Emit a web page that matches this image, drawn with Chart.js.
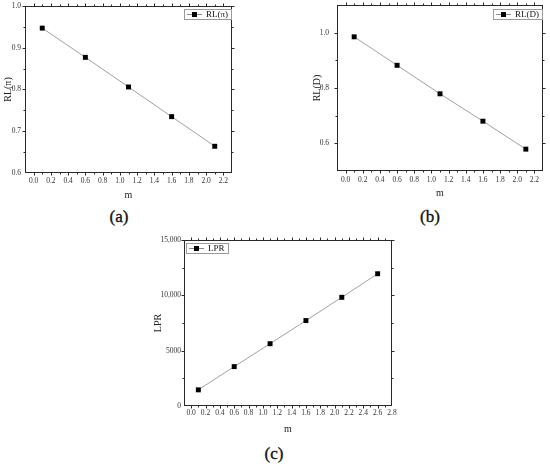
<!DOCTYPE html>
<html><head><meta charset="utf-8">
<script src="https://cdn.jsdelivr.net/npm/chart.js@4"></script>
<style>
html,body{margin:0;padding:0;background:#fff;width:550px;height:464px;overflow:hidden;}
.box{position:absolute;}
.cap{position:absolute;font-family:"Liberation Serif",serif;font-size:17px;color:#111;transform:translate(-50%,-50%);white-space:nowrap;-webkit-text-stroke:0.35px #111;}
</style></head><body>
<div class="box" style="left:0;top:0;width:240px;height:202px"><canvas id="ca" width="240" height="202"></canvas></div>
<div class="box" style="left:300px;top:0;width:250px;height:200px"><canvas id="cb" width="250" height="200"></canvas></div>
<div class="box" style="left:140px;top:230px;width:270px;height:205px"><canvas id="cc" width="270" height="205"></canvas></div>
<div class="cap" style="left:119px;top:217px">(a)</div>
<div class="cap" style="left:430px;top:217px">(b)</div>
<div class="cap" style="left:274px;top:454px">(c)</div>
<script>
// ---- data ----
const mA = [0.1, 0.6, 1.1, 1.6, 2.1];
const rlPi = [0.947, 0.877, 0.806, 0.735, 0.664];
const mB = [0.1, 0.6, 1.1, 1.6, 2.1];
const rlD = [0.985, 0.882, 0.779, 0.680, 0.579];
const mC = [0.1, 0.6, 1.1, 1.6, 2.1, 2.6];
const lpr = [1460, 3560, 5630, 7720, 9820, 11950];

const xTicksAB = [0.0, 0.2, 0.4, 0.6, 0.8, 1.0, 1.2, 1.4, 1.6, 1.8, 2.0, 2.2];
const xLabelsAB = ['0.0','0.2','0.4','0.6','0.8','1.0','1.2','1.4','1.6','1.8','2.0','2.2'];
const xTicksC = [0.0, 0.2, 0.4, 0.6, 0.8, 1.0, 1.2, 1.4, 1.6, 1.8, 2.0, 2.2, 2.4, 2.6, 2.8];
const xLabelsC = ['0.0','0.2','0.4','0.6','0.8','1.0','1.2','1.4','1.6','1.8','2.0','2.2','2.4','2.6','2.8'];
const yTicksA = [0.6, 0.7, 0.8, 0.9, 1.0];
const yLabelsA = ['0.6','0.7','0.8','0.9','1.0'];
const yTicksB = [0.6, 0.8, 1.0];
const yLabelsB = ['0.6','0.8','1.0'];
const yTicksC = [0, 5000, 10000, 15000];
const yLabelsC = ['0','5000','10,000','15,000'];

const FONT = '"Liberation Serif", "Times New Roman", serif';

const framePlugin = {
  id: 'frame',
  beforeDatasetsDraw(chart) {
    const {ctx, chartArea: a, scales: {x, y}} = chart;
    const L = Math.round(a.left) + 0.5, R = Math.round(a.right) - 0.5;
    const T = Math.round(a.top) + 0.5, B = Math.round(a.bottom) - 0.5;
    ctx.save();
    ctx.strokeStyle = '#2a2a2a';
    ctx.lineWidth = 1;
    ctx.strokeRect(L, T, R - L, B - T);
    const mids = arr => arr.slice(1).map((v, i) => (v + arr[i]) / 2);
    const xs = x.ticks.map(t => t.value), ys = y.ticks.map(t => t.value);
    ctx.beginPath();
    const xt = (vals, len) => vals.forEach(v => {
      const p = Math.round(x.getPixelForValue(v)) + 0.5;
      if (p < L - 0.1 || p > R + 0.1) return;
      ctx.moveTo(p, B); ctx.lineTo(p, B + len);
      ctx.moveTo(p, T); ctx.lineTo(p, T - len);
    });
    const yt = (vals, len) => vals.forEach(v => {
      const p = Math.round(y.getPixelForValue(v)) + 0.5;
      if (p < T - 0.1 || p > B + 0.1) return;
      ctx.moveTo(L, p); ctx.lineTo(L - len, p);
      ctx.moveTo(R, p); ctx.lineTo(R + len, p);
    });
    xt(xs, 3); xt(mids(xs), 2);
    yt(ys, 3); yt(mids(ys), 2);
    ctx.stroke();
    ctx.restore();
  },
  afterDraw(chart, args, opts) {
    const {ctx, chartArea: a} = chart;
    const ds = chart.data.datasets[0];
    ctx.save();
    ctx.font = '9px ' + FONT;
    const tw = ctx.measureText(ds.label).width;
    const w = Math.round(22 + tw + 3), h = 10;
    const bx = Math.round(opts.align === 'right' ? a.right - 1 - w : a.left + 2);
    const by = Math.round(a.top + opts.dy);
    ctx.fillStyle = '#fff';
    ctx.fillRect(bx, by, w, h);
    ctx.strokeStyle = '#9a9a9a';
    ctx.lineWidth = 1;
    ctx.strokeRect(bx + 0.5, by + 0.5, w, h);
    const cy = by + h / 2 + 0.5;
    ctx.strokeStyle = '#8a8a8a';
    ctx.beginPath(); ctx.moveTo(bx + 3, cy); ctx.lineTo(bx + 18, cy); ctx.stroke();
    ctx.fillStyle = '#000';
    ctx.fillRect(bx + 8, cy - 2.5, 5, 5);
    ctx.fillStyle = '#111';
    ctx.textBaseline = 'middle';
    ctx.textAlign = 'left';
    ctx.fillText(ds.label, bx + 22, cy + 0.5);
    ctx.restore();
  }
};

function makeChart(id, c) {
  return new Chart(document.getElementById(id), {
    type: 'line',
    data: {
      datasets: [{
        label: c.label,
        data: c.x.map((v, i) => ({x: v, y: c.y[i]})),
        borderColor: '#a0a0a0',
        borderWidth: 1,
        pointStyle: 'rect',
        pointRadius: 3.5,
        pointBackgroundColor: '#000',
        pointBorderColor: '#000',
        pointBorderWidth: 0,
        tension: 0,
        clip: false
      }]
    },
    options: {
      responsive: false,
      animation: false,
      devicePixelRatio: 1,
      layout: {padding: {top: c.pt, right: c.pr, left: 0, bottom: 0}},
      plugins: {
        legend: {display: false},
        tooltip: {enabled: false},
        frame: {align: c.legendAlign, dy: c.legendDy}
      },
      scales: {
        x: {
          type: 'linear', min: c.xmin, max: c.xmax,
          afterBuildTicks: s => { s.ticks = c.xTicks.map(v => ({value: v})); },
          afterFit: s => { s.height = c.xh; s.paddingLeft = 0; s.paddingRight = 0; s.paddingTop = 0; s.paddingBottom = 0; },
          grid: {display: false, drawTicks: false},
          border: {display: false},
          ticks: {padding: c.xtp, autoSkip: false, maxRotation: 0, color: '#333',
                  font: {family: FONT, size: 7.5}, callback: (v, i) => c.xLabels[i]},
          title: {display: true, text: 'm', color: '#222', font: {family: FONT, size: 10},
                  padding: {top: 0, bottom: c.xtitlePad}}
        },
        y: {
          type: 'linear', min: c.ymin, max: c.ymax,
          afterBuildTicks: s => { s.ticks = c.yTicks.map(v => ({value: v})); },
          afterFit: s => { s.width = c.yw; s.paddingLeft = 0; s.paddingRight = 0; s.paddingTop = 0; s.paddingBottom = 0; },
          grid: {display: false, drawTicks: false},
          border: {display: false},
          ticks: {padding: c.ytp, autoSkip: false, color: '#333',
                  font: {family: FONT, size: 7.5}, callback: (v, i) => c.yLabels[i]},
          title: {display: true, text: c.label, color: '#222', font: {family: FONT, size: 10},
                  padding: {top: c.ytitlePad, bottom: 0}}
        }
      }
    },
    plugins: [framePlugin]
  });
}

makeChart('ca', {
  label: 'RL(π)', x: mA, y: rlPi,
  xmin: -0.1, xmax: 2.3, ymin: 0.6, ymax: 1.0,
  xTicks: xTicksAB, xLabels: xLabelsAB, yTicks: yTicksA, yLabels: yLabelsA,
  pt: 6, pr: 8, xh: 29, yw: 25, xtp: 3.5, ytp: 4, xtitlePad: 1, ytitlePad: 2,
  legendAlign: 'right', legendDy: 3
});
makeChart('cb', {
  label: 'RL(D)', x: mB, y: rlD,
  xmin: -0.1, xmax: 2.3, ymin: 0.5, ymax: 1.1,
  xTicks: xTicksAB, xLabels: xLabelsAB, yTicks: yTicksB, yLabels: yLabelsB,
  pt: 5, pr: 7, xh: 29, yw: 37, xtp: 4.5, ytp: 8, xtitlePad: 1, ytitlePad: 11,
  legendAlign: 'right', legendDy: 4
});
makeChart('cc', {
  label: 'LPR', x: mC, y: lpr,
  xmin: -0.1, xmax: 2.8, ymin: 0, ymax: 15000,
  xTicks: xTicksC, xLabels: xLabelsC, yTicks: yTicksC, yLabels: yLabelsC,
  pt: 10, pr: 18, xh: 29, yw: 44, xtp: 2.8, ytp: 3, xtitlePad: 0, ytitlePad: 12,
  legendAlign: 'left', legendDy: 3
});
</script>
</body></html>
